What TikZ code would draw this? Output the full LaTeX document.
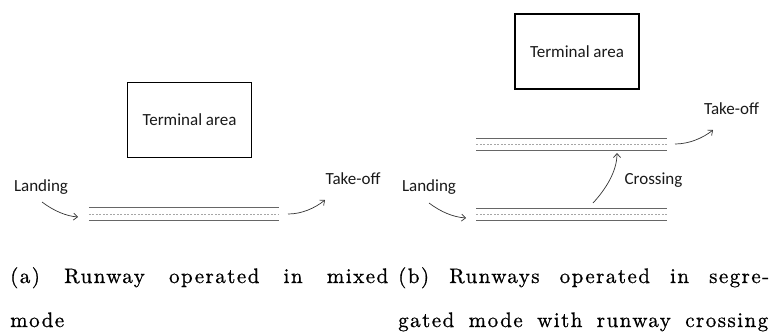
\documentclass[tikz,border=0pt]{standalone}
\usepackage{fontspec}
\newfontfamily\labelfont{Carlito}
\newfontfamily\capfont{lmroman10-regular.otf}[LetterSpace=7,FakeBold=0.8]
\usetikzlibrary{arrows.meta}

\begin{document}
\begin{tikzpicture}[x=1pt,y=-1pt,
  lbl/.style={font=\labelfont\fontsize{17}{20}\selectfont, text=black!90, inner sep=0pt},
  terminal/.style={lbl, draw=black, line width=1.6pt, minimum width=124pt, minimum height=75pt},
  rway/.style={minimum width=190pt, minimum height=12pt, inner sep=0pt},
  rwedge/.style={draw=black!60, line width=0.9pt},
  rwmid/.style={draw=black!35, line width=0.6pt, dash pattern=on 2pt off 1.5pt},
  move/.style={draw=black!80, line width=0.7pt, -{Straight Barb[length=4pt,width=7pt]}},
  subcap/.style={font=\capfont\fontsize{21}{25}\selectfont, inner sep=0pt, anchor=base west}]

\useasboundingbox (0,0) rectangle (769,333);

% ---------- (a) single runway, mixed mode ----------
\node[terminal] (termA) at (189.5,120) {Terminal area};
\node[rway] (rwA) at (184,214) {};
\node[lbl, anchor=base] (landA) at (41,191) {Landing};
\node[lbl, anchor=base] (toA) at (353,184.5) {Take-off};

\coordinate (landA0) at (42,202);
\coordinate (landA1) at (78,217);
\coordinate (toA0) at (288,214);
\coordinate (toA1) at (325,200);

% ---------- (b) two runways, segregated mode ----------
\node[terminal] (termB) at (577,51.5) {Terminal area};
\node[rway] (rwUp) at (571.5,144.5) {};
\node[rway] (rwLo) at (571.5,214.5) {};
\node[lbl, anchor=base] (landB) at (429,191.5) {Landing};
\node[lbl, anchor=base] (toB) at (731.5,114) {Take-off};
\node[lbl, anchor=base] (crossB) at (653.5,184) {Crossing};

\coordinate (landB0) at (429,203);
\coordinate (landB1) at (466,218);
\coordinate (toB0) at (675,144);
\coordinate (toB1) at (713,130);
\coordinate (crB0) at (593,203);
\coordinate (crB1) at (617,153);

% runway markings: two edge lines and a dashed centre line
\foreach \rw in {rwA,rwUp,rwLo}{
  \draw[rwedge] (\rw.north west) -- (\rw.north east);
  \draw[rwedge] (\rw.south west) -- (\rw.south east);
  \draw[rwmid] (\rw.west) -- (\rw.east);
}

% aircraft movements
\draw[move] (landA0) .. controls (54,211) and (66,216) .. (landA1);
\draw[move] (toA0) .. controls (302,214) and (315,208) .. (toA1);
\draw[move] (landB0) .. controls (441,212) and (453,217) .. (landB1);
\draw[move] (toB0) .. controls (689,144) and (703,138) .. (toB1);
\draw[move] (crB0) .. controls (605,190) and (617,172) .. (crB1);

% sub-captions
\node[subcap] (capA1) at (10,283) {\makebox[378pt][s]{(a) Runway operated in mixed}};
\node[subcap] (capA2) at (10,327) {mode};
\node[subcap] (capB1) at (398,283) {\makebox[371pt][s]{(b) Runways operated in segre-}};
\node[subcap] (capB2) at (398,327) {\makebox[370pt][s]{gated mode with runway crossing}};
\end{tikzpicture}
\end{document}
